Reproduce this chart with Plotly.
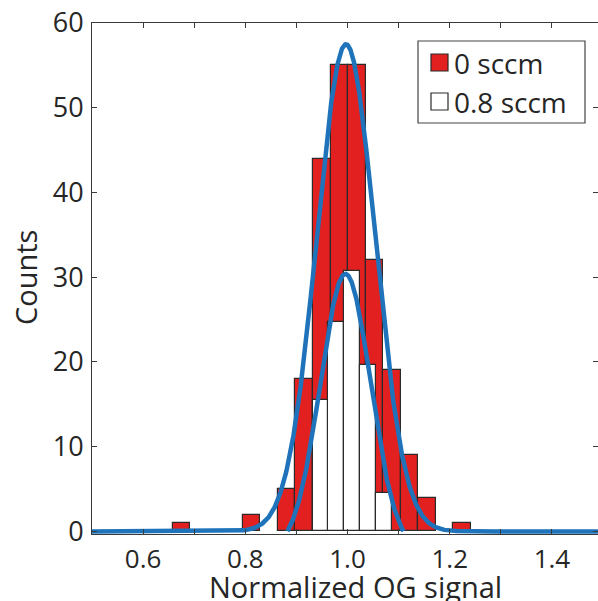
import numpy as np
import plotly.graph_objects as go

# ---------------- data ----------------
red_centers = [0.6749, 0.8123, 0.8810, 0.9153, 0.9497, 0.9840, 1.0183, 1.0527, 1.0870, 1.1213, 1.1557, 1.2243]
red_counts = [1, 2, 5, 18, 44, 55, 55, 32, 19, 9, 4, 1]
red_bin_width = 0.0343

white_centers = [0.948, 0.978, 1.009, 1.040, 1.071]
white_counts = [15.5, 24.7, 30.7, 19.6, 4.5]
white_bin_width = 0.0307

# Gaussian fit parameters
red_fit_amp, red_fit_mu, red_fit_sigma, red_fit_offset = 57.5, 0.997, 0.057, 0.0
white_fit_amp, white_fit_mu, white_fit_sigma, white_fit_offset = 32.6, 0.996, 0.049, -2.2

x_tick_vals = [0.5, 0.6, 0.7, 0.8, 0.9, 1.0, 1.1, 1.2, 1.3, 1.4]
x_tick_text = ["", "0.6", "", "0.8", "", "1.0", "", "1.2", "", "1.4"]
y_tick_vals = [0, 10, 20, 30, 40, 50, 60]

series_names = ["0 sccm", "0.8 sccm"]
x_title = "Normalized OG signal"
y_title = "Counts"

# ---------------- styling ----------------
W, H = 598, 601
ML, MR, MT, MB = 92, 0, 23, 67
RED = "#e2201f"
BLUE = "#1f73bb"
EDGE = "#2a2a2a"
AX = "#3a3a3a"
TXT = "#262626"
FONT = "Open Sans"


def px_to_paper_x(px):
    return (px - ML) / (W - ML - MR)


def px_to_paper_y(py):
    return (H - MB - py) / (H - MT - MB)


def gauss(x, a, mu, s, c):
    return a * np.exp(-((x - mu) ** 2) / (2 * s ** 2)) + c


xs = np.linspace(0.5, 1.5, 2001)
y_red = gauss(xs, red_fit_amp, red_fit_mu, red_fit_sigma, red_fit_offset)
y_white = gauss(xs, white_fit_amp, white_fit_mu, white_fit_sigma, white_fit_offset)
mask = y_white >= 0

fig = go.Figure()
fig.add_trace(go.Bar(x=red_centers, y=red_counts, width=red_bin_width,
                     marker=dict(color=RED, line=dict(color=EDGE, width=1.2)),
                     name=series_names[0], showlegend=False))
fig.add_trace(go.Bar(x=white_centers, y=white_counts, width=white_bin_width,
                     marker=dict(color="white", line=dict(color=EDGE, width=1.2)),
                     name=series_names[1], showlegend=False))
fig.add_trace(go.Scatter(x=xs, y=y_red, mode="lines", line=dict(color=BLUE, width=4.5),
                         showlegend=False, hoverinfo="skip"))
fig.add_trace(go.Scatter(x=xs[mask], y=y_white[mask], mode="lines", line=dict(color=BLUE, width=4.5),
                         showlegend=False, hoverinfo="skip"))

# manual legend (box, swatches, labels)
shapes = [
    dict(type="rect", xref="paper", yref="paper",
         x0=px_to_paper_x(418), x1=px_to_paper_x(585),
         y0=px_to_paper_y(41), y1=px_to_paper_y(123),
         line=dict(color="#444", width=1.2), fillcolor="white", layer="above"),
    dict(type="rect", xref="paper", yref="paper",
         x0=px_to_paper_x(431), x1=px_to_paper_x(448),
         y0=px_to_paper_y(54), y1=px_to_paper_y(71),
         line=dict(color=EDGE, width=1.2), fillcolor=RED, layer="above"),
    dict(type="rect", xref="paper", yref="paper",
         x0=px_to_paper_x(431), x1=px_to_paper_x(448),
         y0=px_to_paper_y(93), y1=px_to_paper_y(110),
         line=dict(color=EDGE, width=1.2), fillcolor="white", layer="above"),
]
annotations = [
    dict(text=series_names[0], xref="paper", yref="paper",
         x=px_to_paper_x(452), y=px_to_paper_y(63), xanchor="left", yanchor="middle",
         showarrow=False, font=dict(family=FONT, size=28, color=TXT)),
    dict(text=series_names[1], xref="paper", yref="paper",
         x=px_to_paper_x(452), y=px_to_paper_y(102), xanchor="left", yanchor="middle",
         showarrow=False, font=dict(family=FONT, size=28, color=TXT)),
    dict(text=x_title, xref="paper", yref="paper",
         x=px_to_paper_x(355), y=px_to_paper_y(586), xanchor="center", yanchor="middle",
         showarrow=False, font=dict(family=FONT, size=29, color=TXT)),
    dict(text=y_title, xref="paper", yref="paper", textangle=-90,
         x=px_to_paper_x(25), y=px_to_paper_y(278), xanchor="center", yanchor="middle",
         showarrow=False, font=dict(family=FONT, size=29, color=TXT)),
]

fig.update_layout(
    width=W, height=H,
    margin=dict(l=ML, r=MR, t=MT, b=MB, pad=0),
    paper_bgcolor="white", plot_bgcolor="white",
    barmode="overlay", bargap=0,
    showlegend=False,
    shapes=shapes, annotations=annotations,
    font=dict(family=FONT, color=TXT),
)
fig.update_xaxes(range=[0.5, 1.4902], tickmode="array", tickvals=x_tick_vals, ticktext=x_tick_text,
                 ticks="inside", ticklen=5, tickcolor=AX, showline=True, linecolor=AX, linewidth=1,
                 mirror="ticks", showgrid=False, zeroline=False, ticklabelstandoff=2,
                 tickfont=dict(family=FONT, size=26, color=TXT))
fig.update_yaxes(range=[-0.3, 60], tickmode="array", tickvals=y_tick_vals,
                 ticks="inside", ticklen=5, tickcolor=AX, showline=True, linecolor=AX, linewidth=1,
                 mirror="ticks", showgrid=False, zeroline=False, ticklabelstandoff=2,
                 tickfont=dict(family=FONT, size=27, color=TXT))

fig.write_html("out.html")
